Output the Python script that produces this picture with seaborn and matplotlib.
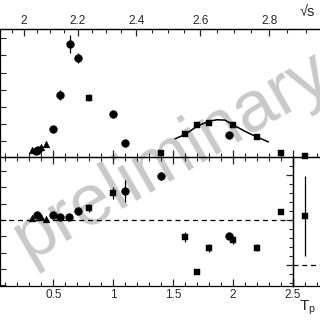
import numpy as np
import pandas as pd
import matplotlib
matplotlib.use("Agg")
import matplotlib.pyplot as plt
from matplotlib.ticker import MultipleLocator, FuncFormatter, FixedLocator, NullFormatter
import seaborn as sns

sns.set_style("ticks")
plt.rcParams['font.family'] = ['Liberation Sans', 'DejaVu Sans']
plt.rcParams['mathtext.fontset'] = 'custom'
plt.rcParams['mathtext.rm'] = 'Liberation Sans'

# ---------------- data ----------------
# top panel
top_circ_tp = [0.355, 0.375, 0.50, 0.555, 0.635, 0.71, 1.00, 1.10, 1.97]
top_circ_y = [0.45, 0.47, 1.70, 3.70, 6.66, 5.83, 2.56, 0.90, 1.39]
top_circ_err = [0, 0, 0, 0.29, 0.53, 0.30, 0, 0, 0]
top_sq_tp = [0.80, 1.40, 1.60, 1.70, 1.80, 2.00, 2.20, 2.40, 2.60]
top_sq_y = [3.53, 0.34, 1.43, 1.92, 2.09, 1.93, 1.25, 0.30, 0.14]
top_sq_err = [0.20, 0.12, 0, 0, 0, 0, 0, 0, 0]
top_tri_tp = [0.325, 0.40, 0.435]
top_tri_y = [0.47, 0.67, 0.82]
curve_tp = [1.517, 1.60, 1.70, 1.80, 1.867, 1.934, 2.00, 2.10, 2.20, 2.297]
curve_y = [1.14, 1.39, 1.87, 2.17, 2.25, 2.23, 1.96, 1.58, 1.25, 0.96]

# bottom panel
bot_circ_tp = [0.36, 0.50, 0.555, 0.635, 0.71, 1.10, 1.40, 1.97]
bot_circ_y = [0.31, 0.31, 0.18, 0.20, 0.55, 1.76, 2.70, -1.00]
bot_circ_err = [0, 0, 0, 0, 0, 0.67, 0.25, 0]
bot_sq_tp = [0.80, 1.00, 1.60, 1.70, 1.80, 2.00, 2.20, 2.40]
bot_sq_y = [0.72, 1.64, -1.02, -3.17, -1.70, -1.23, -1.70, 0.49]
bot_sq_err = [0.25, 0.37, 0.30, 0, 0.25, 0.25, 0.20, 0]
bot_tri_tp = [0.325, 0.40, 0.435]
bot_tri_y = [0.10, 0.20, 0.08]

# right side panel
side_tp = [2.60]
side_y = [5.41]
side_err = [4.44]

sqrts_ticks = [2.0, 2.2, 2.4, 2.6, 2.8]
tp_ticks = [0.5, 1.0, 1.5, 2.0, 2.5]

# ---------------- figure ----------------
W = H = 320
fig = plt.figure(figsize=(3.2, 3.2), dpi=100)
fig.patch.set_facecolor('white')

def px_rect(x0, y0, x1, y1):
    return [x0 / W, 1 - y1 / H, (x1 - x0) / W, (y1 - y0) / H]

PXU = 119.7   # px per Tp unit
X0 = -6.5     # px of Tp = 0

def tp_at(px):
    return (px - X0) / PXU

ax_top = fig.add_axes(px_rect(0, 29, 335, 157))
ax_bot = fig.add_axes(px_rect(0, 157, 292.7, 286))
ax_side = fig.add_axes(px_rect(292.7, 157, 335, 286))

for a in (ax_top, ax_bot, ax_side):
    a.set_facecolor('none')
    for s in a.spines.values():
        s.set_linewidth(0.9)
        s.set_color('black')

ax_top.set_xlim(tp_at(0), tp_at(335))
ax_top.set_ylim(0.08, 7.54)
ax_bot.set_xlim(tp_at(0), 2.5)
ax_bot.set_ylim(-4.05, 3.87)
ax_side.set_xlim(2.5, tp_at(335))
ax_side.set_ylim(-2.37, 11.97)

# watermark behind everything
fig.text(172 / W, 1 - 157 / H, "preliminary", fontsize=52, color='#c9c9c9',
         rotation=30, ha='center', va='center', rotation_mode='anchor',
         family=['Liberation Sans', 'DejaVu Sans'], zorder=-5)

def draw(ax, tp, y, err, marker, size):
    df = pd.DataFrame({"tp": tp, "y": y, "err": err})
    e = df[df.err > 0]
    if len(e):
        ax.errorbar(e.tp, e.y, yerr=e.err, fmt='none', ecolor='black',
                    elinewidth=0.9, capsize=0, clip_on=False)
    sns.scatterplot(data=df, x="tp", y="y", ax=ax, marker=marker, s=size,
                    color='black', edgecolor='black', linewidth=0.3,
                    clip_on=False, zorder=5, legend=False)

draw(ax_top, top_circ_tp, top_circ_y, top_circ_err, 'o', 32)
draw(ax_top, top_sq_tp, top_sq_y, top_sq_err, 's', 23)
draw(ax_top, top_tri_tp, top_tri_y, [0] * len(top_tri_tp), '^', 24)
sns.lineplot(x=curve_tp, y=curve_y, ax=ax_top, color='black', linewidth=1.1,
             sort=False, estimator=None, legend=False)

draw(ax_bot, bot_circ_tp, bot_circ_y, bot_circ_err, 'o', 32)
draw(ax_bot, bot_sq_tp, bot_sq_y, bot_sq_err, 's', 23)
draw(ax_bot, bot_tri_tp, bot_tri_y, [0] * len(bot_tri_tp), '^', 24)
ax_bot.axhline(0, color='black', linewidth=0.9, linestyle=(0, (4, 3)))

draw(ax_side, side_tp, side_y, side_err, 's', 23)
ax_side.axhline(0, color='black', linewidth=0.9, linestyle=(0, (4, 3)))

for a in (ax_top, ax_bot, ax_side):
    a.set_xlabel("")
    a.set_ylabel("")

fmt = FuncFormatter(lambda v, p: "%g" % v)

# top panel ticks
ax_top.xaxis.set_major_locator(MultipleLocator(0.5))
ax_top.xaxis.set_minor_locator(MultipleLocator(0.1))
ax_top.xaxis.set_major_formatter(NullFormatter())
ax_top.tick_params(axis='x', which='both', direction='in', bottom=True, top=False)
ax_top.tick_params(axis='x', which='major', length=5, width=0.9)
ax_top.tick_params(axis='x', which='minor', length=3, width=0.8)
ax_top.yaxis.set_major_locator(MultipleLocator(1))
ax_top.yaxis.set_major_formatter(NullFormatter())
ax_top.tick_params(axis='y', which='major', direction='in', length=4, width=0.8)

m = 0.938
def tp2s(t):
    return np.sqrt(np.maximum(4 * m * m + 2 * m * np.asarray(t, dtype=float), 1e-9))
def s2tp(s):
    s = np.asarray(s, dtype=float)
    return (s * s - 4 * m * m) / (2 * m)

sec = ax_top.secondary_xaxis('top', functions=(tp2s, s2tp))
sec.xaxis.set_major_locator(FixedLocator(sqrts_ticks))
sec.xaxis.set_minor_locator(MultipleLocator(0.05))
sec.xaxis.set_major_formatter(fmt)
sec.tick_params(axis='x', which='both', direction='in', labelsize=8.5, pad=1.5)
sec.tick_params(axis='x', which='major', length=5, width=0.9)
sec.tick_params(axis='x', which='minor', length=3, width=0.8)
sec.spines['top'].set_linewidth(0.9)

# bottom panel ticks
ax_bot.xaxis.set_major_locator(FixedLocator(tp_ticks))
ax_bot.xaxis.set_minor_locator(MultipleLocator(0.1))
ax_bot.xaxis.set_major_formatter(fmt)
ax_bot.tick_params(axis='x', which='both', direction='in', bottom=True, top=True,
                   labelsize=8.5, pad=2)
ax_bot.tick_params(axis='x', which='major', length=5, width=0.9)
ax_bot.tick_params(axis='x', which='minor', length=3, width=0.8)
ax_bot.yaxis.set_major_locator(MultipleLocator(1))
ax_bot.yaxis.set_major_formatter(NullFormatter())
ax_bot.tick_params(axis='y', which='major', direction='in', length=4, width=0.8)

# side panel ticks
ax_side.xaxis.set_major_locator(MultipleLocator(0.5))
ax_side.xaxis.set_minor_locator(MultipleLocator(0.1))
ax_side.xaxis.set_major_formatter(NullFormatter())
ax_side.tick_params(axis='x', which='both', direction='in', bottom=True, top=False)
ax_side.tick_params(axis='x', which='major', length=5, width=0.9)
ax_side.tick_params(axis='x', which='minor', length=3, width=0.8)
ax_side.yaxis.set_major_locator(MultipleLocator(5))
ax_side.yaxis.set_minor_locator(MultipleLocator(1))
ax_side.yaxis.set_major_formatter(NullFormatter())
ax_side.tick_params(axis='y', which='both', direction='out', left=True)
ax_side.tick_params(axis='y', which='major', length=5, width=0.9)
ax_side.tick_params(axis='y', which='minor', length=3, width=0.8)

# axis titles
fig.text(0.936, 0.963, "\u221As", fontsize=10.5, ha='left', va='center',
         family=['Liberation Sans', 'DejaVu Sans'])
fig.text(0.935, 0.038, "T$_\\mathregular{p}$", fontsize=11, ha='left', va='center')

fig.savefig("out.png", dpi=100)
